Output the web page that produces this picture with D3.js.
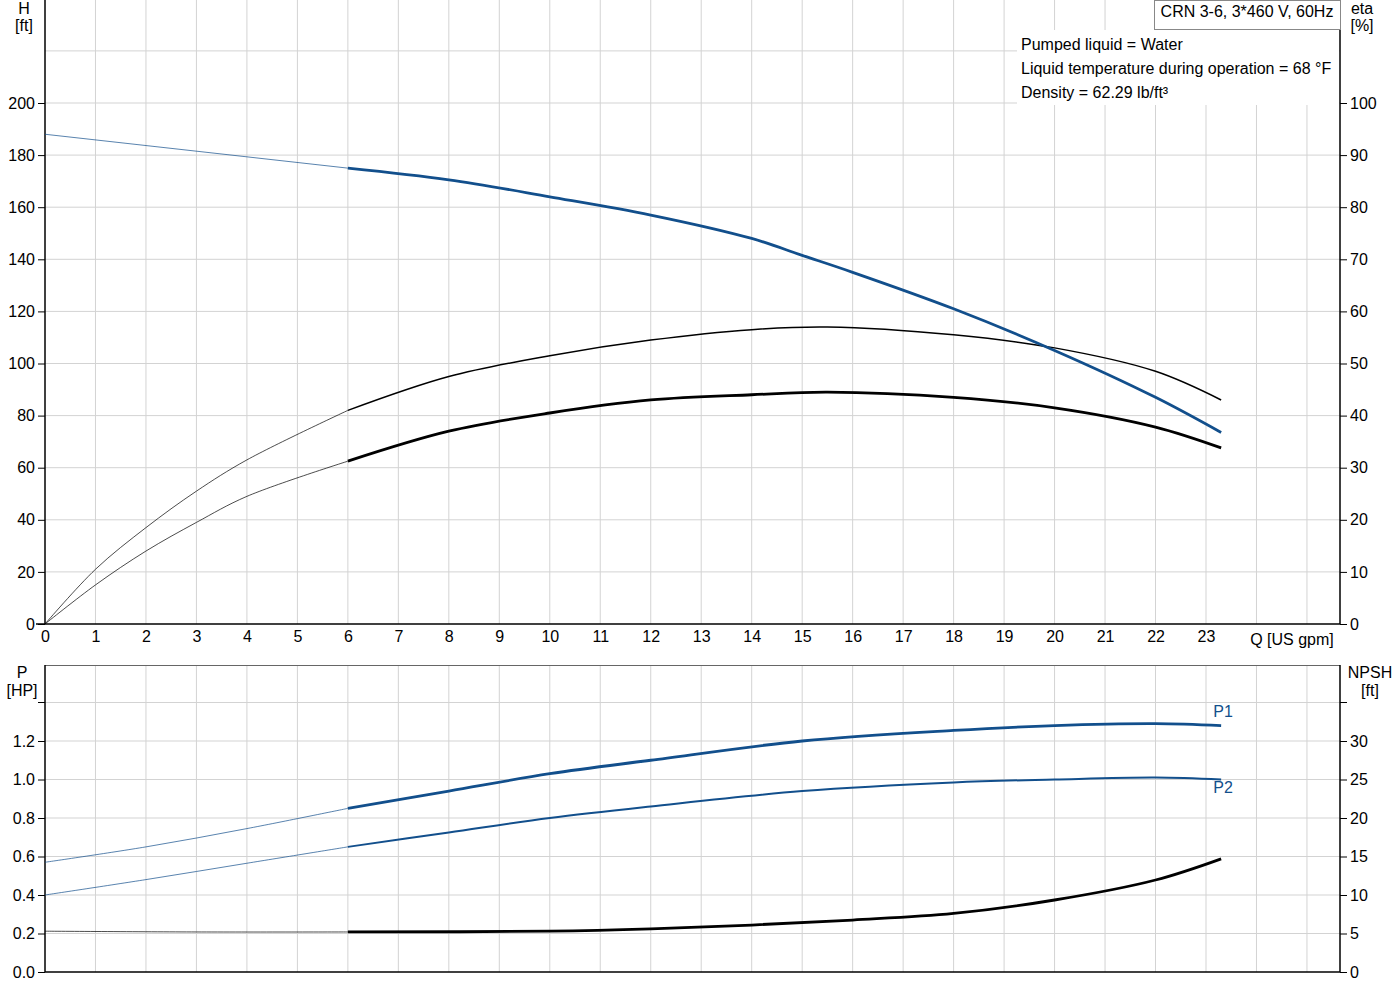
<!DOCTYPE html><html><head><meta charset="utf-8"><script src="https://cdn.jsdelivr.net/npm/d3@7"></script>
<style>body{margin:0;background:#fff}text{font-family:"Liberation Sans",Arial,sans-serif;font-size:16px;fill:#000}</style></head><body><svg id="c" width="1400" height="1000"></svg><script>
const qTicks=d3.range(0,24);
const hTicks=[0,20,40,60,80,100,120,140,160,180,200];
const etaTicks=[0,10,20,30,40,50,60,70,80,90,100];
const pTicks=[0,0.2,0.4,0.6,0.8,1.0,1.2];
const npshTicks=[0,5,10,15,20,25,30];
const Hq=[0,6,8,10,12,14,15,16,18,20,22,23.3];
const Hv=[188,175,170.5,164,157,148,141.5,135,121,105,87,73.5];
const etaQ=[0,1,2,3,4,6,8,10,12,14,15.5,18,20,22,23.3];
const eta1=[0,10.5,18.5,25.5,31.5,41,47.5,51.5,54.5,56.5,57,55.5,53,48.5,43];
const eta2=[0,7.5,14,19.5,24.5,31.25,37,40.5,43,44,44.5,43.5,41.5,37.8,33.8];
const pQ=[0,2,4,6,8,10,12,15,18,20,22,23.3];
const p1=[0.57,0.65,0.745,0.85,0.94,1.03,1.10,1.20,1.255,1.28,1.29,1.28];
const p2=[0.40,0.48,0.565,0.65,0.725,0.80,0.86,0.94,0.985,1.0,1.01,1.0];
const nQ=[0,3,6,10,12,14,16,18,20,22,23.3];
const npsh=[5.3,5.2,5.2,5.3,5.6,6.1,6.75,7.6,9.35,11.95,14.7];
const svg=d3.select("#c");
const x=d3.scaleLinear().domain([0,23]).range([45,1206]);
const yH=d3.scaleLinear().domain([0,200]).range([624,103]);
const yE=d3.scaleLinear().domain([0,100]).range([624,103]);
const yP=d3.scaleLinear().domain([0,1.2]).range([972,741]);
const yN=d3.scaleLinear().domain([0,30]).range([972,741]);
const grid="#d3d3d3";
function grids(y0,y1,ys){
 const g=svg.append("g");
 d3.range(1,26).forEach(q=>g.append("line").attr("x1",x(q)).attr("x2",x(q)).attr("y1",y0).attr("y2",y1).attr("stroke",grid));
 ys.forEach(v=>g.append("line").attr("x1",45).attr("x2",1340).attr("y1",v).attr("y2",v).attr("stroke",grid));
}
grids(0,624,d3.range(20,260,20).map(v=>yH(v)));
grids(665,972,d3.range(0.2,1.5,0.2).map(v=>yP(v)));
svg.append("line").attr("x1",45).attr("x2",1340).attr("y1",665.5).attr("y2",665.5).attr("stroke","#666");
const ax=svg.append("g").attr("transform","translate(0,624)").call(d3.axisBottom(x).tickValues(qTicks).tickSize(0).tickPadding(7));
ax.select(".domain").remove();
ax.selectAll("text").attr("font-size",16).attr("fill","#000").attr("font-family","Liberation Sans,Arial");
svg.append("line").attr("x1",36).attr("x2",1340).attr("y1",624).attr("y2",624).attr("stroke","#000").attr("stroke-width",1.5);
svg.append("line").attr("x1",45).attr("x2",1340).attr("y1",972).attr("y2",972).attr("stroke","#000").attr("stroke-width",1.5);
function yaxis(scale,ticks,xpos,orient,fmt,extra,top,bottom){
 const a=orient==="l"?d3.axisLeft(scale):d3.axisRight(scale);
 const g=svg.append("g").attr("transform",`translate(${xpos},0)`).call(a.tickValues(ticks).tickSize(7).tickPadding(3).tickFormat(fmt));
 g.select(".domain").remove();
 g.selectAll("text").attr("font-size",16).attr("fill","#000").attr("font-family","Liberation Sans,Arial");
 g.selectAll("line").attr("stroke","#000");
 extra.forEach(v=>svg.append("line").attr("x1",orient==="l"?xpos-7:xpos).attr("x2",orient==="l"?xpos:xpos+7).attr("y1",v).attr("y2",v).attr("stroke","#000"));
 svg.append("line").attr("x1",xpos).attr("x2",xpos).attr("y1",top).attr("y2",bottom).attr("stroke","#000").attr("stroke-width",1.5);
}
yaxis(yH,hTicks,45,"l",d3.format("d"),[],0,624);
yaxis(yE,etaTicks,1340,"r",d3.format("d"),[],0,624);
yaxis(yP,pTicks,45,"l",d3.format(".1f"),[yP(1.4)],665,972);
yaxis(yN,npshTicks,1340,"r",d3.format("d"),[yN(35)],665,972);
function lbl(t,xp,yp,anchor,fill){svg.append("text").attr("x",xp).attr("y",yp).attr("text-anchor",anchor||"middle").style("fill",fill||"#000").text(t);}
lbl("H",24,14);lbl("[ft]",24,31);lbl("eta",1362,14);lbl("[%]",1362,31);
lbl("P",22,678);lbl("[HP]",22,696);lbl("NPSH",1370,678);lbl("[ft]",1370,696);
lbl("Q [US gpm]",1292,645);
svg.append("rect").attr("x",1017).attr("y",30).attr("width",322).attr("height",75).attr("fill","#fff");
svg.append("rect").attr("x",1154.5).attr("y",0.5).attr("width",186).attr("height",29).attr("fill","#fff").attr("stroke","#888");
lbl("CRN 3-6, 3*460 V, 60Hz",1247,17);
lbl("Pumped liquid = Water",1021,50,"start");
lbl("Liquid temperature during operation = 68 °F",1021,74,"start");
lbl("Density = 62.29 lb/ft³",1021,98,"start");
function curve(qs,vs,ys,color,w){
 const pts=qs.map((q,i)=>[q,vs[i]]);
 const line=d3.line().x(d=>x(d[0])).y(d=>ys(d[1])).curve(d3.curveCatmullRom.alpha(0.5));
 const i6=qs.indexOf(6);
 const full=line(pts);
 svg.append("path").attr("d",line(pts.slice(0,i6+1))).attr("fill","none").attr("stroke",color).attr("stroke-width",1).attr("opacity",0.7);
 svg.append("path").attr("d",line(pts.slice(i6))).attr("fill","none").attr("stroke",color).attr("stroke-width",w);
}
const blue="#124f8c";
curve(etaQ,eta1,yE,"#000",1.5);
curve(etaQ,eta2,yE,"#000",2.8);
curve(Hq,Hv,yH,blue,2.8);
curve(pQ,p1,yP,blue,2.8);
curve(pQ,p2,yP,blue,2);
curve(nQ,npsh,yN,"#000",2.8);
lbl("P1",1223,717,"middle",blue);lbl("P2",1223,793,"middle",blue);
</script></body></html>
